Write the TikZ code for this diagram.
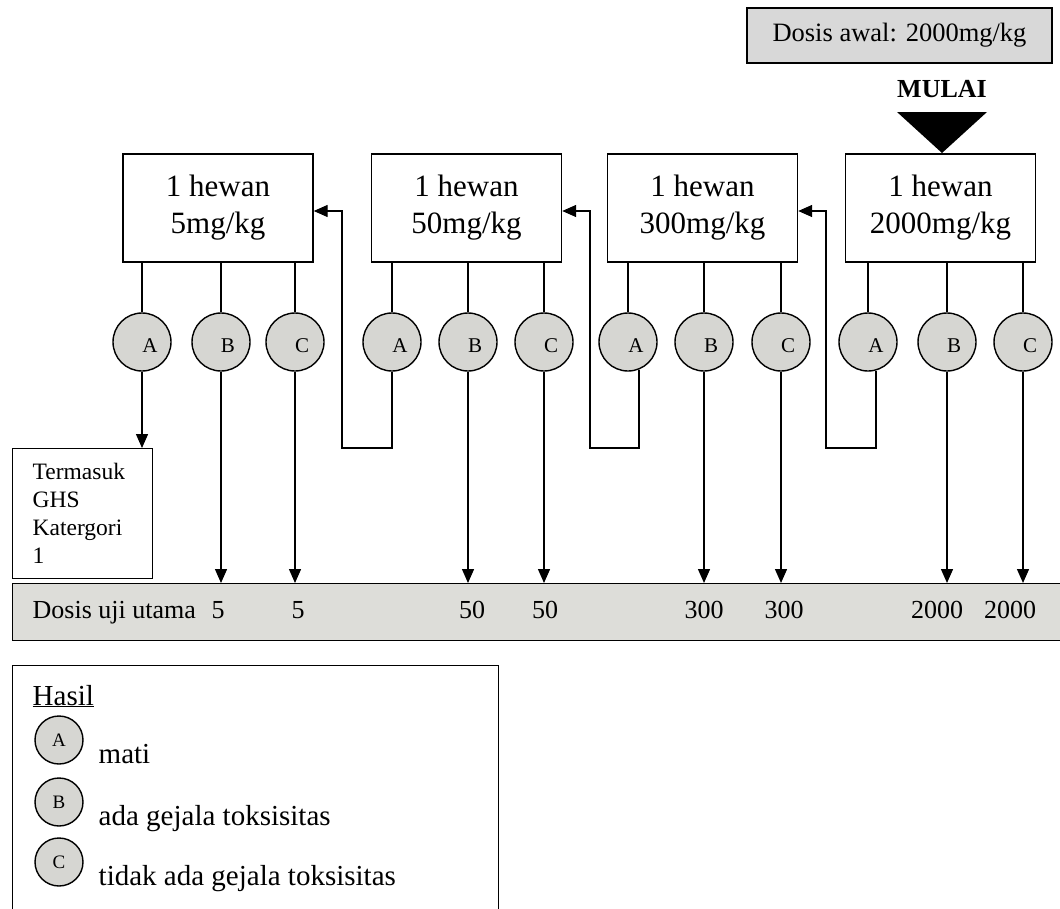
\documentclass[tikz,border=0pt]{standalone}
\usepackage{fontspec}
\setmainfont{Liberation Serif}
\usetikzlibrary{arrows.meta,calc}
\definecolor{cfill}{RGB}{214,214,210}
\definecolor{barfill}{RGB}{221,221,217}
\definecolor{awalfill}{RGB}{216,216,216}
\newcommand{\cletter}[1]{{\fontsize{21}{21}\selectfont #1}}
\newcommand{\lletter}[1]{{\fontsize{19}{19}\selectfont #1}}
\begin{document}
\begin{tikzpicture}[x=1pt,y=-1pt, line width=1.4pt,
  box/.style={draw, rectangle, minimum width=190pt, minimum height=108pt, inner sep=0pt, align=center, font=\fontsize{31}{37}\selectfont},
  circ/.style={draw, circle, fill=cfill, minimum size=58pt, inner sep=0pt},
  lett/.style={inner sep=0pt},
  lcirc/.style={draw, circle, fill=cfill, minimum size=48pt, inner sep=0pt},
  dose/.style={anchor=base, inner sep=0pt, font=\fontsize{26}{30}\selectfont},
  legtext/.style={anchor=base west, inner sep=0pt, font=\fontsize{29}{34}\selectfont},
  arr/.style={-{Triangle[length=14pt,width=12pt]}}]
\useasboundingbox (0,0) rectangle (1060,908);

% start
\node[draw, fill=awalfill, minimum width=305pt, minimum height=55pt, inner sep=0pt, font=\fontsize{26.5}{30}\selectfont] (awal) at (899.5,35.5) {Dosis awal: 2000mg/kg};
\node[anchor=base, inner sep=0pt, font=\fontsize{26}{30}\selectfont\bfseries] (mulai) at (942,97) {MULAI};
\coordinate (tl) at (897,112);
\coordinate (tr) at (987,112);
\coordinate (tip) at (942,153);
\fill (tl) -- (tr) -- (tip) -- cycle;

% dose boxes
\node[box] (g5) at (218,208) {1 hewan\\5mg/kg};
\node[box] (g50) at (466.5,208) {1 hewan\\50mg/kg};
\node[box] (g300) at (702.5,208) {1 hewan\\300mg/kg};
\node[box] (g2000) at (940.5,208) {1 hewan\\2000mg/kg};

% outcome circles
\node[circ, label={[lett,xshift=8pt,yshift=-4pt]center:\cletter{A}}] (a5) at (142,342) {};
\node[circ, label={[lett,xshift=7pt,yshift=-4pt]center:\cletter{B}}] (b5) at (221,342) {};
\node[circ, label={[lett,xshift=7pt,yshift=-4pt]center:\cletter{C}}] (c5) at (295,342) {};
\node[circ, label={[lett,xshift=8pt,yshift=-4pt]center:\cletter{A}}] (a50) at (392,342) {};
\node[circ, label={[lett,xshift=7pt,yshift=-4pt]center:\cletter{B}}] (b50) at (468,342) {};
\node[circ, label={[lett,xshift=7pt,yshift=-4pt]center:\cletter{C}}] (c50) at (544,342) {};
\node[circ, label={[lett,xshift=8pt,yshift=-4pt]center:\cletter{A}}] (a300) at (628,342) {};
\node[circ, label={[lett,xshift=7pt,yshift=-4pt]center:\cletter{B}}] (b300) at (704,342) {};
\node[circ, label={[lett,xshift=7pt,yshift=-4pt]center:\cletter{C}}] (c300) at (781,342) {};
\node[circ, label={[lett,xshift=8pt,yshift=-4pt]center:\cletter{A}}] (a2000) at (868,342) {};
\node[circ, label={[lett,xshift=7pt,yshift=-4pt]center:\cletter{B}}] (b2000) at (947,342) {};
\node[circ, label={[lett,xshift=7pt,yshift=-4pt]center:\cletter{C}}] (c2000) at (1023,342) {};

\foreach \n/\g in {a5/g5,b5/g5,c5/g5,a50/g50,b50/g50,c50/g50,a300/g300,b300/g300,c300/g300,a2000/g2000,b2000/g2000,c2000/g2000}
  \draw (\n.north |- \g.south) -- (\n.north);

% category box
\node[draw, anchor=north west, minimum height=130pt, text width=100pt, inner xsep=20pt, inner ysep=0pt, align=left, font=\fontsize{23.5}{28}\selectfont] (term) at (12,448) {Termasuk\\GHS\\Katergori\\1};

% main dose bar
\node[draw, fill=barfill, anchor=north west, minimum width=1060pt, minimum height=57pt, inner sep=0pt] (bar) at (12,583) {};
\node[anchor=base west, inner sep=0pt, font=\fontsize{26}{30}\selectfont] (dlabel) at (32,618) {Dosis uji utama};
\node[dose] (v1) at (218,618) {5};
\node[dose] (v2) at (298,618) {5};
\node[dose] (v3) at (472,618) {50};
\node[dose] (v4) at (545,618) {50};
\node[dose] (v5) at (704,618) {300};
\node[dose] (v6) at (784,618) {300};
\node[dose] (v7) at (937,618) {2000};
\node[dose] (v8) at (1010,618) {2000};

% arrows
\draw[arr] (a5.south) -- (a5.south |- term.north);
\foreach \n in {b5,c5,b50,c50,b300,c300,b2000,c2000}
  \draw[arr] (\n.south) -- (\n.south |- bar.north);

\coordinate (r1) at (342,448);
\coordinate (r2) at (590,448);
\coordinate (r3) at (826,448);
\draw[arr] (a50.south) |- (r1) |- ([yshift=-3pt]g5.east);
\draw[arr] (a300.-68) |- (r2) |- ([yshift=-3pt]g50.east);
\draw[arr] (a2000.-74) |- (r3) |- ([yshift=-3pt]g300.east);

% legend
\node[draw, anchor=north west, minimum width=486pt, minimum height=262pt, inner sep=0pt] (legend) at (12,665) {};
\node[legtext] (hasil) at (32,705) {\underline{Hasil}};
\node[lcirc] (la) at (59,740) {\lletter{A}};
\node[lcirc] (lb) at (59,802) {\lletter{B}};
\node[lcirc] (lc) at (59,862) {\lletter{C}};
\node[legtext] (ta) at (98,763) {mati};
\node[legtext] (tb) at (98,825) {ada gejala toksisitas};
\node[legtext] (tc) at (98,885) {tidak ada gejala toksisitas};
\end{tikzpicture}
\end{document}
